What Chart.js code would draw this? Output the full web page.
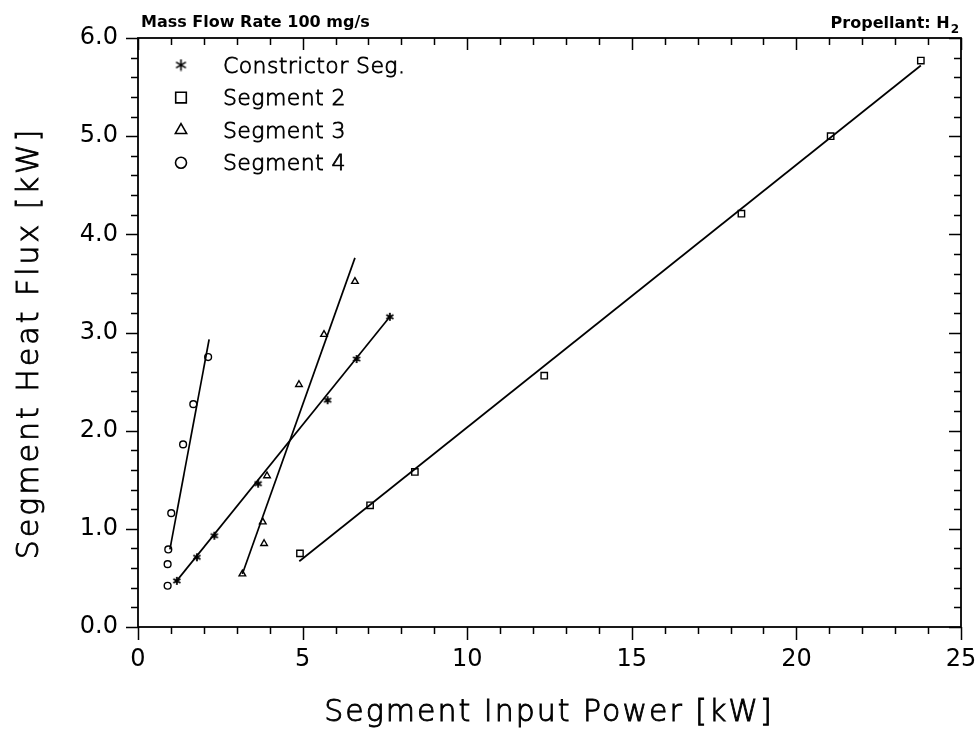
<!DOCTYPE html>
<html><head><meta charset="utf-8">
<script src="https://cdn.jsdelivr.net/npm/chart.js@4"></script>
<style>html,body{margin:0;padding:0;background:#fff}</style>
</head><body>
<canvas id="c" width="977" height="735"></canvas>
<script>
// ---- data ----
const seriesLabels = ["Constrictor Seg.", "Segment 2", "Segment 3", "Segment 4"];

const constrictorX = [1.18, 1.79, 2.32, 3.65, 5.76, 6.64, 7.65];
const constrictorY = [0.47, 0.71, 0.93, 1.46, 2.31, 2.73, 3.16];
const seg2X = [4.92, 7.05, 8.41, 12.34, 18.33, 21.04, 23.78];
const seg2Y = [0.75, 1.24, 1.58, 2.56, 4.21, 5.00, 5.77];
const seg3X = [3.17, 3.83, 3.79, 3.92, 4.89, 5.65, 6.59];
const seg3Y = [0.54, 0.85, 1.07, 1.54, 2.47, 2.98, 3.52];
const seg4X = [0.90, 0.90, 0.92, 1.01, 1.37, 1.68, 2.13];
const seg4Y = [0.42, 0.64, 0.79, 1.16, 1.86, 2.27, 2.75];

// fitted lines (end points)
const constrictorFitX = [1.15, 7.65];
const constrictorFitY = [0.46, 3.16];
const seg2FitX = [4.90, 23.78];
const seg2FitY = [0.67, 5.72];
const seg3FitX = [3.17, 6.59];
const seg3FitY = [0.54, 3.76];
const seg4FitX = [0.97, 2.16];
const seg4FitY = [0.79, 2.93];

const xMajorTicks = [0, 5, 10, 15, 20, 25];
const yMajorTicks = [0, 1, 2, 3, 4, 5, 6];
const xTitle = "Segment Input Power [kW]";
const yTitle = "Segment Heat Flux [kW]";
const topLeftNote = "Mass Flow Rate 100 mg/s";
const topRightNote = "Propellant: H";
const topRightSub = "2";

// ---- helpers ----
function pts(xs, ys) { return xs.map((x, i) => ({ x: x, y: ys[i] })); }

function asteriskCanvas(size, lw) {
  const c = document.createElement('canvas');
  c.width = c.height = size;
  const g = c.getContext('2d');
  g.strokeStyle = '#000';
  g.lineWidth = lw;
  const cx = size / 2, r = size / 2 - lw / 2;
  g.beginPath();
  for (let k = 0; k < 3; k++) {
    const a = Math.PI / 2 + k * Math.PI / 3;
    g.moveTo(cx + r * Math.cos(a), cx + r * Math.sin(a));
    g.lineTo(cx - r * Math.cos(a), cx - r * Math.sin(a));
  }
  g.stroke();
  return c;
}
const astSmall = asteriskCanvas(10, 1.8);
const astBig = asteriskCanvas(13, 1.6);

const FONT = "'DejaVu Sans', sans-serif";

function strokedText(ctx, text, x, y, lw) {
  ctx.fillText(text, x, y);
  ctx.lineWidth = lw;
  ctx.strokeStyle = '#000';
  ctx.strokeText(text, x, y);
}

function pointSet(label, xs, ys, style, r) {
  return {
    label: label, data: pts(xs, ys), showLine: false,
    pointStyle: style, pointRadius: r, pointHoverRadius: r,
    borderColor: '#000', backgroundColor: 'rgba(0,0,0,0)',
    pointBorderWidth: 1.4, isPoints: true
  };
}
function fitSet(xs, ys) {
  return {
    label: '', data: pts(xs, ys), showLine: true, pointRadius: 0,
    borderColor: '#000', borderWidth: 1.7, fill: false, isFit: true
  };
}

const legendMarkers = [
  { style: astBig, r: 6 },
  { style: 'rect', r: 7.5 },
  { style: 'triangle', r: 6.5 },
  { style: 'circle', r: 5.5 }
];

const framePlugin = {
  id: 'frame',
  beforeDatasetsDraw(chart) {
    const ctx = chart.ctx, a = chart.chartArea;
    const xs = chart.scales.x, ys = chart.scales.y;
    ctx.save();
    ctx.strokeStyle = '#000';
    ctx.lineWidth = 1.8;
    ctx.strokeRect(a.left, a.top, a.right - a.left, a.bottom - a.top);
    ctx.lineWidth = 1.5;
    ctx.beginPath();
    for (let v = 0; v <= 25; v++) {
      const px = Math.round(xs.getPixelForValue(v)) + 0.5;
      const major = v % 5 === 0;
      const lb = major ? 13 : 7;
      const lt = major ? 12 : 7;
      ctx.moveTo(px, a.bottom); ctx.lineTo(px, a.bottom + lb);
      ctx.moveTo(px, a.top); ctx.lineTo(px, a.top + lt);
    }
    for (let k = 0; k <= 30; k++) {
      const v = k * 0.2;
      const py = Math.round(ys.getPixelForValue(v)) + 0.5;
      const major = k % 5 === 0;
      const ll = major ? 12 : 7;
      const lr = major ? 12 : 7;
      ctx.moveTo(a.left, py); ctx.lineTo(a.left - ll, py);
      ctx.moveTo(a.right, py); ctx.lineTo(a.right - lr, py);
    }
    ctx.stroke();
    ctx.restore();
  },
  afterDraw(chart) {
    const ctx = chart.ctx;
    ctx.save();
    ctx.fillStyle = '#000';
    // top notes
    ctx.font = "bold 16px " + FONT;
    ctx.textAlign = 'left';
    ctx.textBaseline = 'alphabetic';
    ctx.fillText(topLeftNote, 141, 27);
    const subFont = "bold 12px " + FONT;
    ctx.font = subFont;
    const wSub = ctx.measureText(topRightSub).width;
    ctx.font = "bold 16px " + FONT;
    const wMain = ctx.measureText(topRightNote).width;
    const rightEdge = 959;
    ctx.fillText(topRightNote, rightEdge - wSub - wMain - 1, 28);
    ctx.font = subFont;
    ctx.fillText(topRightSub, rightEdge - wSub, 33);

    // axis titles
    ctx.font = "200 30px " + FONT;
    if ('letterSpacing' in ctx) ctx.letterSpacing = '2px';
    ctx.textAlign = 'center';
    strokedText(ctx, xTitle, 549, 721, 0.9);
    ctx.save();
    ctx.translate(38, 343);
    ctx.rotate(-Math.PI / 2);
    if ('letterSpacing' in ctx) ctx.letterSpacing = '3px';
    strokedText(ctx, yTitle, 0, 0, 0.9);
    ctx.restore();

    // legend
    if ('letterSpacing' in ctx) ctx.letterSpacing = '0.4px';
    ctx.font = "200 22px " + FONT;
    ctx.textAlign = 'left';
    const pointSets = chart.data.datasets.filter(d => d.isPoints);
    pointSets.forEach((d, i) => {
      const y = 65 + i * 32.6;
      const m = legendMarkers[i];
      ctx.save();
      ctx.strokeStyle = '#000';
      ctx.fillStyle = 'rgba(0,0,0,0)';
      ctx.lineWidth = 1.6;
      Chart.helpers.drawPoint(ctx, { pointStyle: m.style, radius: m.r, borderWidth: 1.6, rotation: 0 }, 181, y);
      ctx.restore();
      ctx.fillStyle = '#000';
      strokedText(ctx, d.label, 223, y + 7.5, 0.8);
    });
    ctx.restore();
  }
};

new Chart(document.getElementById('c'), {
  type: 'scatter',
  data: {
    datasets: [
      fitSet(constrictorFitX, constrictorFitY),
      fitSet(seg2FitX, seg2FitY),
      fitSet(seg3FitX, seg3FitY),
      fitSet(seg4FitX, seg4FitY),
      pointSet(seriesLabels[0], constrictorX, constrictorY, astSmall, 5),
      pointSet(seriesLabels[1], seg2X, seg2Y, 'rect', 4.5),
      pointSet(seriesLabels[2], seg3X, seg3Y, 'triangle', 3.8),
      pointSet(seriesLabels[3], seg4X, seg4Y, 'circle', 3.4)
    ]
  },
  options: {
    responsive: false,
    animation: false,
    events: [],
    layout: { padding: { left: 0, top: 38, right: 16, bottom: 0 } },
    plugins: { legend: { display: false }, tooltip: { enabled: false }, title: { display: false } },
    scales: {
      x: {
        type: 'linear', min: 0, max: 25,
        afterBuildTicks(s) { s.ticks = xMajorTicks.map(v => ({ value: v })); },
        afterFit(s) { s.height = 108; s.paddingLeft = 0; s.paddingRight = 0; },
        grid: { display: false, drawTicks: false },
        border: { display: false },
        ticks: { color: '#000', padding: 18, font: { family: FONT, size: 24 }, maxRotation: 0, autoSkip: false },
        title: { display: false }
      },
      y: {
        type: 'linear', min: 0, max: 6,
        afterBuildTicks(s) { s.ticks = yMajorTicks.map(v => ({ value: v })); },
        afterFit(s) { s.width = 138; s.paddingTop = 0; s.paddingBottom = 0; },
        grid: { display: false, drawTicks: false },
        border: { display: false },
        ticks: { color: '#000', padding: 20, font: { family: FONT, size: 24 }, autoSkip: false,
                 callback: v => Number(v).toFixed(1) },
        title: { display: false }
      }
    }
  },
  plugins: [framePlugin]
});
</script>
</body></html>
